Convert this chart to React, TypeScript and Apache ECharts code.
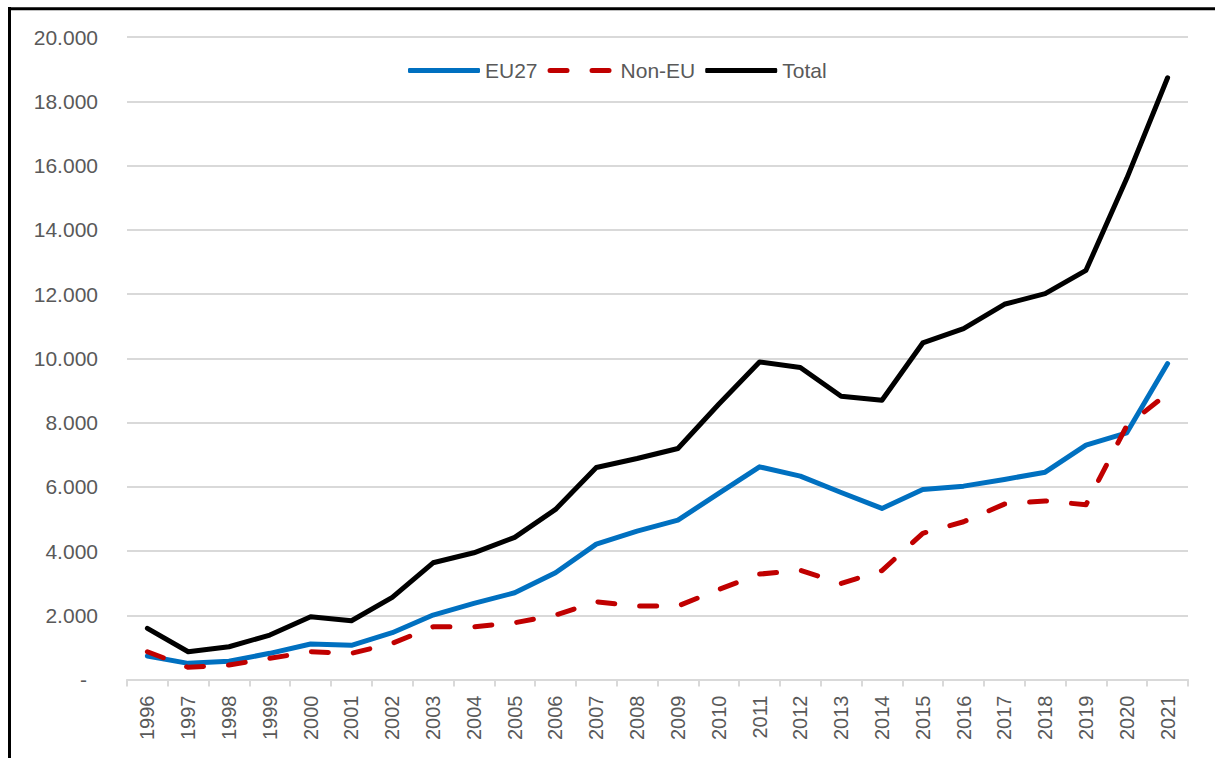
import React, { useEffect, useRef } from "react";
import * as echarts from "echarts";

const years = [
  "1996", "1997", "1998", "1999", "2000", "2001", "2002", "2003", "2004", "2005",
  "2006", "2007", "2008", "2009", "2010", "2011", "2012", "2013", "2014", "2015",
  "2016", "2017", "2018", "2019", "2020", "2021",
];
const eu27 = [
  731, 503, 570, 815, 1104, 1064, 1456, 2006, 2370, 2700,
  3322, 4215, 4619, 4961, 5792, 6619, 6330, 5822, 5325, 5916,
  6019, 6227, 6454, 7294, 7680, 9835,
];
const nonEu = [
  865, 379, 451, 659, 865, 815, 1126, 1642, 1642, 1767,
  2006, 2420, 2286, 2286, 2800, 3281, 3400, 2990, 3390, 4550,
  4910, 5460, 5560, 5440, 7900, 8900,
];
const total = [
  1592, 865, 1020, 1384, 1953, 1829, 2557, 3633, 3944, 4423,
  5294, 6600, 6880, 7191, 8569, 9885, 9711, 8818, 8694, 10476,
  10924, 11680, 12012, 12737, 15600, 18730,
];
const seriesNames = ["EU27", "Non-EU", "Total"];

const FONT = "'Liberation Sans', Arial, sans-serif";
const TEXT = "#595959";
const GRID = "#D9D9D9";

const DASH_ICON =
  "path://M2.5,0h17a2.5,2.5 0 0 1 0,5h-17a2.5,2.5 0 0 1 0,-5z M44.5,0h17a2.5,2.5 0 0 1 0,5h-17a2.5,2.5 0 0 1 0,-5z";

function fmt(v: number): string {
  if (v === 0) return "{z|-}";
  return String(v).replace(/\B(?=(\d{3})+(?!\d))/g, ".");
}

export default function App() {
  const ref = useRef<HTMLDivElement>(null);
  useEffect(() => {
    if (!ref.current) return;
    const chart = echarts.init(ref.current, undefined, { renderer: "svg" });
    chart.setOption({
      animation: false,
      backgroundColor: "#ffffff",
      textStyle: { fontFamily: FONT },
      grid: {
        left: 127,
        right: 27,
        top: 37,
        bottom: 78.5,
        containLabel: false,
        outerBoundsMode: "none",
      },
      legend: {
        left: 408,
        top: 60,
        padding: 0,
        itemWidth: 72,
        itemHeight: 5,
        itemGap: 10,
        data: [
          { name: seriesNames[0], icon: "roundRect" },
          { name: seriesNames[1], icon: DASH_ICON },
          { name: seriesNames[2], icon: "roundRect" },
        ],
        textStyle: { fontSize: 21, color: TEXT, fontFamily: FONT },
      },
      xAxis: {
        type: "category",
        data: years,
        boundaryGap: true,
        axisLine: { lineStyle: { color: GRID, width: 2 } },
        axisTick: { show: true, interval: 0, length: 7, lineStyle: { color: GRID, width: 2 } },
        axisLabel: {
          interval: 0,
          rotate: 90,
          margin: 16,
          fontSize: 20,
          color: TEXT,
          fontFamily: FONT,
        },
        splitLine: { show: false },
      },
      yAxis: {
        type: "value",
        min: 0,
        max: 20000,
        interval: 2000,
        axisLine: { show: false },
        axisTick: { show: false },
        axisLabel: {
          margin: 29,
          fontSize: 21,
          color: TEXT,
          fontFamily: FONT,
          formatter: fmt,
          rich: {
            z: { fontSize: 21, color: TEXT, fontFamily: FONT, padding: [0, 11, 0, 0] },
          },
        },
        splitLine: { lineStyle: { color: GRID, width: 2 } },
      },
      series: [
        {
          name: seriesNames[0],
          type: "line",
          data: eu27,
          symbol: "none",
          color: "#0070C0",
          lineStyle: { color: "#0070C0", width: 5, cap: "round", join: "round" },
        },
        {
          name: seriesNames[1],
          type: "line",
          data: nonEu,
          symbol: "none",
          color: "#C00000",
          lineStyle: { color: "#C00000", width: 5, type: [17, 25], cap: "round", join: "round" },
        },
        {
          name: seriesNames[2],
          type: "line",
          data: total,
          symbol: "none",
          color: "#000000",
          lineStyle: { color: "#000000", width: 5, cap: "round", join: "round" },
        },
      ],
      graphic: [
        {
          type: "line",
          shape: { x1: 9.5, y1: 7, x2: 9.5, y2: 758 },
          style: { stroke: "#000000", lineWidth: 3 },
          silent: true,
        },
        {
          type: "line",
          shape: { x1: 8, y1: 8.7, x2: 1215, y2: 8.7 },
          style: { stroke: "#000000", lineWidth: 3 },
          silent: true,
        },
      ],
    });
    return () => chart.dispose();
  }, []);
  return (
    <div
      ref={ref}
      style={{ position: "absolute", left: 0, top: 0, width: 1215, height: 758, background: "#fff" }}
    />
  );
}
